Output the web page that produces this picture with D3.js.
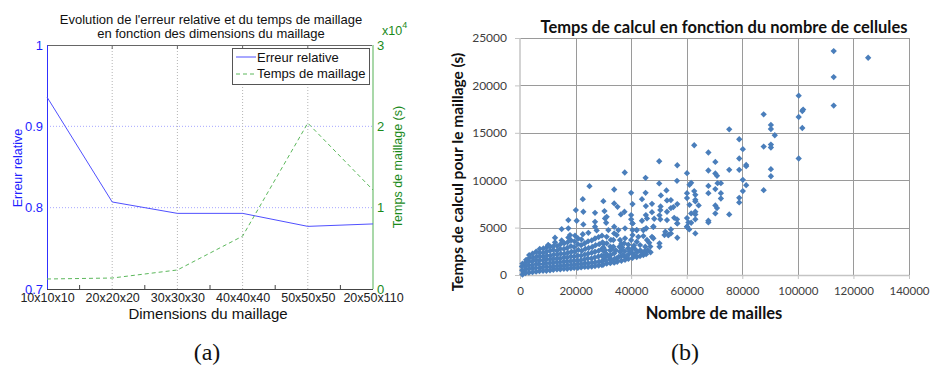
<!DOCTYPE html>
<html><head><meta charset="utf-8">
<script src="https://cdn.jsdelivr.net/npm/d3@7/dist/d3.min.js"></script>
<style>
html,body{margin:0;padding:0;background:#fff;}
svg{display:block;}
</style></head>
<body>
<svg id="chart" width="933" height="367"></svg>
<script>
// ---------- Data: left chart (a) ----------
const categories = ["10x10x10","20x20x20","30x30x30","40x40x40","50x50x50","20x50x110"];
const erreurRelative = [0.936, 0.807, 0.793, 0.793, 0.777, 0.780];
const tempsMaillage = [1230, 1350, 2340, 6500, 20400, 12170];
const leftTicks = [0.7, 0.8, 0.9, 1];
const rightTicks = [0, 10000, 20000, 30000];

// ---------- Data: right chart (b) ----------
const scatterXTicks = [0,20000,40000,60000,80000,100000,120000,140000];
const scatterYTicks = [0,5000,10000,15000,20000,25000];
const denseCluster = [
[900,50],[800,500],[700,900],[900,1200],[1300,300],
[2000,200],[2100,600],[1900,950],[2000,1300],[2200,1600],
[3200,250],[3300,650],[3100,1000],[3200,1400],[3400,1800],[3300,2100],
[4500,300],[4600,700],[4400,1050],[4500,1450],[4700,1850],[4500,2250],
[5800,350],[5700,750],[5900,1150],[5800,1550],[6000,1950],[5800,2450],
[7000,400],[7100,750],[6900,1150],[7000,1550],[7200,1950],[7000,2350],[7100,2750],
[8300,450],[8200,800],[8400,1150],[8300,1550],[8500,1950],[8300,2350],[8400,2800],
[9500,450],[9600,850],[9400,1250],[9500,1650],[9700,2050],[9500,2450],[9600,2900],[10100,3150],
[10800,500],[10900,850],[10700,1250],[10800,1650],[11000,2050],[10800,2550],[10900,3000],
[12000,550],[12100,900],[11900,1300],[12000,1700],[12200,2150],[12000,2650],[12100,3050],[12600,3450],
[13300,600],[13400,950],[13200,1350],[13300,1750],[13500,2150],[13300,2550],[13400,3050],
[14500,600],[14600,950],[14400,1350],[14500,1750],[14700,2250],[14500,2750],[14600,3250],[15000,3650],
[15800,650],[15900,1000],[15700,1400],[15800,1850],[16000,2250],[15800,2750],[15900,3350],
[17000,650],[17100,1050],[16900,1450],[17000,1850],[17200,2350],[17000,2850],[17100,3450],[17400,3950],
[18300,700],[18400,1050],[18200,1450],[18300,1950],[18500,2450],[18300,3050],[18400,3650],
[19500,750],[19600,1100],[19400,1500],[19500,1950],[19700,2450],[19500,2950],[19600,3550],[19800,4150],
[20800,750],[20900,1150],[20700,1550],[20800,2050],[21000,2650],[20800,3250],[20900,3850],
[22000,800],[22100,1150],[21900,1550],[22000,2050],[22200,2550],[22000,3150],[22100,3750],[22600,4300],
[23300,850],[23400,1250],[23200,1650],[23300,2150],[23500,2750],[23300,3350],
[24500,850],[24600,1250],[24400,1750],[24500,2250],[24700,2850],[24500,3550],[24600,4450],
[25800,900],[25900,1300],[25700,1750],[25800,2350],[26000,2950],[25800,3650],
[27000,950],[27100,1350],[26900,1850],[27000,2450],[27200,3150],[27000,3850],[27600,4700],
[28300,1000],[28400,1400],[28200,1950],[28300,2550],[28500,3250],[28300,4000],
[29500,1050],[29600,1450],[29400,2050],[29500,2750],[29700,3450],[29500,4150]
];
const middleBand = [
[30000,1100],[30000,1580],[30000,2000],[30200,2500],[30000,2900],[30100,3300],[30600,2630],[30600,1930],
[31200,1200],[31200,2200],[31200,3340],[31200,4030],[31800,4740],[31200,6140],
[32500,1250],[32500,1650],[32600,2100],[32400,2600],[32500,3000],[32700,3700],
[33900,1300],[33900,2290],[33600,2980],[33600,3690],[33900,4390],[33900,5090],
[35000,1400],[34800,1760],[36000,2450],[35800,2980],[36000,3690],[34800,4210],[35400,4740],
[36500,1500],[36400,2000],[36600,2600],[36500,3300],
[37800,1600],[37800,1930],[37700,2500],[37500,3340],[37800,3870],[37800,4920],
[39000,1700],[39100,2200],[38900,2800],
[40500,1800],[40500,2290],[40500,2810],[40000,3690],[40500,4210],[40500,4740],[40500,5440],
[42000,1900],[42100,2400],[42000,3510],[42000,4740],[42600,4030],
[43200,2000],[43300,2600],[43200,3160],
[44400,2100],[44400,4110],[44400,4740],
[45400,2200],[45100,2980],[45700,3690],[45400,4920],
[47000,2400],[46900,3000],[48000,3870],[48000,5090],[47500,4030],
[31000,1500],[32000,1900],[33000,1600],[34000,1700],[35500,1900],[37000,2100],[38500,2000],
[39500,2500],[41000,2100],[41500,2700],[43800,2400],[44800,2500],[46000,2600],[46500,3400],
[39000,3200],[41000,3100],[34500,2600],[33000,2700],[36800,2900],
[50200,2980],[50200,3340],[52000,4210],[52300,4560],[53400,4210],
[54300,4390],[54300,4810],[56600,3930],[56600,5440],[60900,4810],[60600,5550],[63100,4390],[60100,5090]
];
const upperPoints = [
[112900,23620],[125300,22920],[112900,20880],[112900,17870],
[100300,18920],[101600,17300],[101900,17450],[100300,16670],[101600,15510],[100300,12290],
[87700,16950],[90300,15830],[90300,15400],[91700,14740],[87700,13550],[90300,13760],[90300,13450],
[90300,11160],[90300,10420],[87700,8950],
[75300,15370],[78900,14320],[80200,13270],[78900,12290],[81400,11610],[81400,11480],[78900,11090],
[75300,11090],[80200,10040],[81400,9480],[80200,8850],[78900,8140],[78900,7660],[75300,6390],
[62700,13690],[67800,12920],[70300,11930],[67800,11020],[70300,10710],[70900,10460],[71100,9690],
[72300,9690],[67800,9400],[67800,8630],[70300,9060],[72300,8630],[72300,8070],[70300,7340],[70900,7060],
[70300,6500],[67800,5720],[67800,5550],
[60100,10740],[61000,9510],[61600,9720],[60100,8630],[60100,8110],[62700,8850],[63100,8460],
[63100,7930],[63100,7760],[61000,7400],[64300,7340],[63100,6670],[63100,6390],[61600,6500],
[63100,5870],[60100,6000],[61600,5510],[60100,5090],
[50100,12000],[56600,11580],[37700,10810],[45200,10250],[56500,9930],[50100,9660],
[33900,9020],[40000,8670],[45200,8670],[52700,8920],[50700,8390],
[30000,7790],[33900,7550],[40500,7480],[43900,8000],[47500,7510],[52900,7870],[54300,7900],
[56600,7480],[50600,7230],[50500,6850],[54300,7060],[55200,7160],
[30400,6740],[30600,5970],[31000,5510],[35100,7190],[37600,6670],[36300,6390],[40000,6320],[40000,5870],
[45300,7270],[45300,6320],[43900,5720],[45700,5970],[47500,6630],[48300,5930],[50200,6290],[50500,5870],
[52900,6670],[52900,5790],[55500,6030],[56500,5870],[53400,4210],[56600,5440],
[48000,5090],[45400,4920],[44400,4740],[42000,4740],[40500,5440],
[25000,9370],[22600,8000],[20100,6850],[22800,6670],[27000,6560],
[17400,5790],[20400,5720],[22800,5340],[27000,5610],[27000,5090],
[15000,4840],[17400,4920],[18000,4210],[12600,3930],[10200,3160]
];

// ---------- Drawing ----------
const svg = d3.select("#chart");
const FONT = "'Liberation Sans', Arial, sans-serif";

// ===== Left chart =====
const L = {x0:47, x1:373, y0:45, y1:289};
const xL = d3.scalePoint().domain(categories).range([L.x0, L.x1]);
const yL = d3.scaleLinear().domain([0.7, 1]).range([L.y1, L.y0]);
const yR = d3.scaleLinear().domain([0, 30000]).range([L.y1, L.y0]);

const gl = svg.append("g");
gl.selectAll(".hg").data([0.8, 0.9]).join("line")
  .attr("x1", L.x0).attr("x2", L.x1).attr("y1", d => yL(d)).attr("y2", d => yL(d))
  .attr("stroke", "#a8a8ff").attr("stroke-width", 1).attr("stroke-dasharray", "1,2");
gl.selectAll(".vg").data(categories.slice(1, -1)).join("line")
  .attr("x1", d => xL(d)).attr("x2", d => xL(d)).attr("y1", L.y0).attr("y2", L.y1)
  .attr("stroke", "#b4b4b4").attr("stroke-width", 1).attr("stroke-dasharray", "1,2");
gl.append("line").attr("x1", L.x0).attr("x2", L.x1).attr("y1", L.y0 + 0.5).attr("y2", L.y0 + 0.5).attr("stroke", "#666");
const bx = gl.append("g").attr("transform", `translate(0,${L.y1})`)
  .call(d3.axisBottom(xL).tickSize(0).tickPadding(4));
bx.select(".domain").attr("stroke", "#444").attr("d", `M${L.x0},0.5H${L.x1}`);
bx.selectAll("text").attr("font-family", FONT).attr("font-size", 12.5).attr("fill", "#222");
const mids = d3.pairs(categories).map(([a, b]) => (xL(a) + xL(b)) / 2);
gl.selectAll(".mt").data(mids).join("line")
  .attr("x1", d => d).attr("x2", d => d).attr("y1", L.y1).attr("y2", L.y1 - 4).attr("stroke", "#444");
gl.selectAll(".tt").data(categories.slice(1, -1)).join("line")
  .attr("x1", d => xL(d)).attr("x2", d => xL(d)).attr("y1", L.y0).attr("y2", L.y0 + 4).attr("stroke", "#666");
const ly = gl.append("g").attr("transform", `translate(${L.x0},0)`)
  .call(d3.axisLeft(yL).tickValues(leftTicks).tickSize(0).tickPadding(4)
    .tickFormat(d => d === 1 ? "1" : d3.format(".1f")(d)));
ly.select(".domain").attr("stroke", "#3030ff").attr("d", `M0.5,${L.y0}V${L.y1}`);
ly.selectAll("text").attr("font-family", FONT).attr("font-size", 13).attr("fill", "#1f1fff");
const ry = gl.append("g").attr("transform", `translate(${L.x1},0)`)
  .call(d3.axisRight(yR).tickValues(rightTicks).tickSize(0).tickPadding(4)
    .tickFormat(d => d / 10000));
ry.select(".domain").attr("stroke", "#a9d8a9").attr("stroke-width", 2).attr("d", `M0,${L.y0}V${L.y1}`);
ry.selectAll("text").attr("font-family", FONT).attr("font-size", 13).attr("fill", "#1a8a1a");
const ex = gl.append("text").attr("x", 382).attr("y", 35).attr("font-family", FONT).attr("font-size", 12.5).attr("fill", "#1a8a1a");
ex.append("tspan").text("x10");
ex.append("tspan").attr("dy", -7).attr("font-size", 9).text("4");

gl.append("path").datum(erreurRelative)
  .attr("d", d3.line().x((d, i) => xL(categories[i])).y(d => yL(d)))
  .attr("fill", "none").attr("stroke", "#5050ff").attr("stroke-width", 1);
gl.append("path").datum(tempsMaillage)
  .attr("d", d3.line().x((d, i) => xL(categories[i])).y(d => yR(d)))
  .attr("fill", "none").attr("stroke", "#5cb85c").attr("stroke-width", 1).attr("stroke-dasharray", "4,3");

const lg = gl.append("g");
lg.append("rect").attr("x", 232.5).attr("y", 48.5).attr("width", 137).attr("height", 36)
  .attr("fill", "#fff").attr("stroke", "#555");
lg.append("line").attr("x1", 236).attr("x2", 256).attr("y1", 57).attr("y2", 57).attr("stroke", "#5050ff");
lg.append("line").attr("x1", 236).attr("x2", 256).attr("y1", 74).attr("y2", 74).attr("stroke", "#5cb85c").attr("stroke-dasharray", "4,3");
lg.append("text").attr("x", 257).attr("y", 61.5).attr("font-family", FONT).attr("font-size", 13).attr("fill", "#111").text("Erreur relative");
lg.append("text").attr("x", 257).attr("y", 78).attr("font-family", FONT).attr("font-size", 13).attr("fill", "#111").text("Temps de maillage");

gl.append("text").attr("x", 211).attr("y", 24).attr("text-anchor", "middle").attr("font-family", FONT).attr("font-size", 13).attr("fill", "#111")
  .text("Evolution de l'erreur relative et du temps de maillage");
gl.append("text").attr("x", 211).attr("y", 38).attr("text-anchor", "middle").attr("font-family", FONT).attr("font-size", 13).attr("fill", "#111")
  .text("en fonction des dimensions du maillage");
gl.append("text").attr("transform", "translate(21.5,168) rotate(-90)").attr("text-anchor", "middle")
  .attr("font-family", FONT).attr("font-size", 12.5).attr("fill", "#1f1fff").text("Erreur relative");
gl.append("text").attr("transform", "translate(402,167) rotate(-90)").attr("text-anchor", "middle")
  .attr("font-family", FONT).attr("font-size", 12.5).attr("fill", "#1a8a1a").text("Temps de maillage (s)");
gl.append("text").attr("x", 208).attr("y", 319).attr("text-anchor", "middle").attr("font-family", FONT).attr("font-size", 15).attr("fill", "#111")
  .text("Dimensions du maillage");
gl.append("text").attr("x", 207).attr("y", 360).attr("text-anchor", "middle").attr("font-family", "'Liberation Serif', 'DejaVu Serif', serif").attr("font-size", 24).attr("fill", "#111")
  .text("(a)");

// ===== Right chart =====
const R = {x0:520, x1:909, y0:38, y1:275};
const xS = d3.scaleLinear().domain([0, 140000]).range([R.x0, R.x1]);
const yS = d3.scaleLinear().domain([0, 25000]).range([R.y1, R.y0]);
const BF = "Lato, 'Open Sans', sans-serif";
const gr = svg.append("g");
gr.selectAll(".hs").data(scatterYTicks.slice(1)).join("line")
  .attr("x1", R.x0).attr("x2", R.x1).attr("y1", d => Math.round(yS(d)) + 0.5).attr("y2", d => Math.round(yS(d)) + 0.5)
  .attr("stroke", "#9a9a9a");
gr.selectAll(".vs").data(scatterXTicks.slice(1)).join("line")
  .attr("x1", d => Math.round(xS(d)) + 0.5).attr("x2", d => Math.round(xS(d)) + 0.5).attr("y1", R.y0).attr("y2", R.y1)
  .attr("stroke", "#9a9a9a");
const sx = gr.append("g").attr("transform", `translate(0,${R.y1})`)
  .call(d3.axisBottom(xS).tickValues(scatterXTicks).tickSize(4).tickPadding(8).tickFormat(d3.format("d")));
sx.select(".domain").attr("stroke", "#c4c4c4").attr("stroke-width", 1.5).attr("d", `M${R.x0},0.5H${R.x1}`);
sx.selectAll(".tick line").attr("stroke", "#c4c4c4");
sx.selectAll("text").attr("font-family", BF).attr("font-size", 11.5).attr("fill", "#404040");
const sy = gr.append("g").attr("transform", `translate(${R.x0},0)`)
  .call(d3.axisLeft(yS).tickValues(scatterYTicks).tickSize(5).tickPadding(8).tickFormat(d3.format("d")));
sy.select(".domain").attr("stroke", "#c4c4c4").attr("stroke-width", 1.5).attr("d", `M0,${R.y0}V${R.y1}`);
sy.selectAll(".tick line").attr("stroke", "#c4c4c4");
sy.selectAll("text").attr("font-family", BF).attr("font-size", 12).attr("fill", "#404040");

const allPts = denseCluster.concat(middleBand, upperPoints);
const marker = d3.symbol().type(d3.symbolSquare).size(20);
gr.selectAll(".pt").data(allPts).join("path")
  .attr("transform", d => `translate(${xS(d[0])},${yS(d[1])}) rotate(45)`)
  .attr("d", marker).attr("fill", "#4a7ebb");

gr.append("text").attr("x", 724).attr("y", 33).attr("text-anchor", "middle").attr("font-family", BF).attr("font-weight", "bold").attr("font-size", 16.5).attr("fill", "#111")
  .text("Temps de calcul en fonction du nombre de cellules");
gr.append("text").attr("transform", "translate(463,172) rotate(-90)").attr("text-anchor", "middle").attr("font-family", BF).attr("font-weight", "bold").attr("font-size", 15.5).attr("fill", "#111")
  .text("Temps de calcul pour le maillage (s)");
gr.append("text").attr("x", 714).attr("y", 319).attr("text-anchor", "middle").attr("font-family", BF).attr("font-weight", "bold").attr("font-size", 16.5).attr("fill", "#111")
  .text("Nombre de mailles");
gr.append("text").attr("x", 685).attr("y", 360).attr("text-anchor", "middle").attr("font-family", "'Liberation Serif', 'DejaVu Serif', serif").attr("font-size", 24).attr("fill", "#111")
  .text("(b)");
</script>
</body></html>
